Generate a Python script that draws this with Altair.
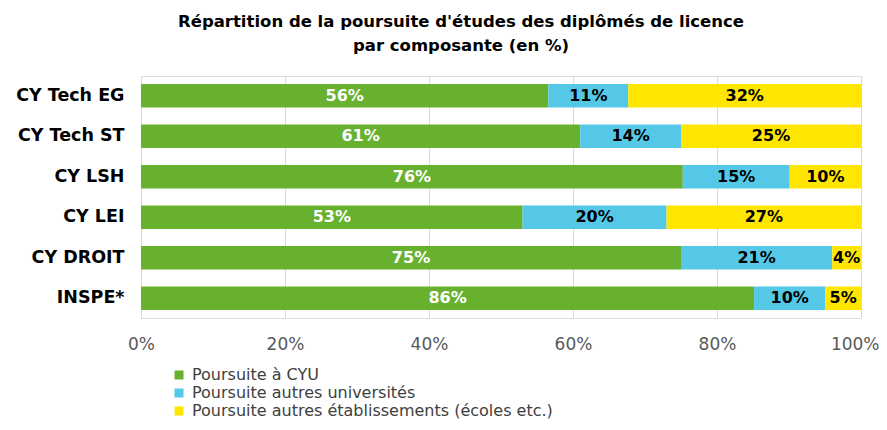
import altair as alt
import pandas as pd

categories = ["CY Tech EG", "CY Tech ST", "CY LSH", "CY LEI", "CY DROIT", "INSPE*"]
series = ["Poursuite à CYU", "Poursuite autres universités",
          "Poursuite autres établissements (écoles etc.)"]
cyu = [56, 61, 76, 53, 75, 86]
autres_univ = [11, 14, 15, 20, 21, 10]
autres_etab = [32, 25, 10, 27, 4, 5]
colors = ["#67b12f", "#55c8e8", "#ffe600"]
x_ticks = [0, 0.2, 0.4, 0.6, 0.8, 1.0]

rows = []
for i, c in enumerate(categories):
    for k, (s, vals) in enumerate(zip(series, [cyu, autres_univ, autres_etab])):
        rows.append({"cat": c, "serie": s, "order": k, "value": vals[i]})
df = pd.DataFrame(rows)

FONT = "DejaVu Sans"

base = alt.Chart(df).transform_joinaggregate(
    total="sum(value)", groupby=["cat"]
).transform_window(
    cum="sum(value)", groupby=["cat"], sort=[alt.SortField("order")],
    frame=[None, 0]
).transform_calculate(
    start="(datum.cum - datum.value) / datum.total",
    end="datum.cum / datum.total",
    mid="(datum.cum - datum.value / 2) / datum.total",
    label="datum.value + '%'",
)

y_enc = alt.Y("cat:N", sort=categories, title=None,
              scale=alt.Scale(paddingInner=0.42, paddingOuter=0.2),
              axis=alt.Axis(labelFont=FONT, labelFontSize=17.5, labelFontWeight="bold",
                            labelColor="#000000", ticks=False, domain=False,
                            labelPadding=17))

bars = base.mark_bar().encode(
    x=alt.X("start:Q", scale=alt.Scale(domain=[0, 1], nice=False), title=None,
            axis=alt.Axis(format="%", values=x_ticks, labelFont=FONT, labelFontSize=17,
                          labelColor="#595959", ticks=False, domain=False,
                          grid=True, gridColor="#d9d9d9", labelPadding=18,
                          labelFlush=False,
                          labelAlign={"condition": {"test": "datum.value >= 1", "value": "right"},
                                      "value": "center"},
                          labelOffset={"condition": {"test": "datum.value >= 1", "value": 18},
                                       "value": 0})),
    x2="end:Q",
    y=y_enc,
    color=alt.Color("serie:N", sort=series,
                    scale=alt.Scale(domain=series, range=colors),
                    legend=alt.Legend(title=None, orient="none", legendX=30, legendY=291,
                                      symbolType="square", symbolSize=81,
                                      symbolStrokeWidth=0, padding=0,
                                      labelFont=FONT, labelFontSize=16, labelLimit=0,
                                      labelColor="#404040", rowPadding=2,
                                      labelOffset=5)),
)

texts = base.mark_text(font=FONT, fontSize=16, fontWeight="bold").encode(
    x="mid:Q",
    y=alt.Y("cat:N", sort=categories),
    text="label:N",
    color=alt.condition("datum.order == 0", alt.value("#ffffff"), alt.value("#000000")),
)

chart = (bars + texts).properties(
    width=720, height=242,
    autosize=alt.AutoSizeParams(type="none"),
    padding={"left": 133, "top": 68, "right": 18, "bottom": 104},
    title=alt.TitleParams(
        text=["Répartition de la poursuite d'études des diplômés de licence",
              "par composante (en %)"],
        font=FONT, fontSize=16.5, fontWeight="bold", color="#000000",
        anchor="middle", dx=-40, offset=22, lineHeight=24,
    ),
).configure_view(stroke=None).configure(background="white")

chart.save("out.html", embed_options={"renderer": "svg", "actions": False})
